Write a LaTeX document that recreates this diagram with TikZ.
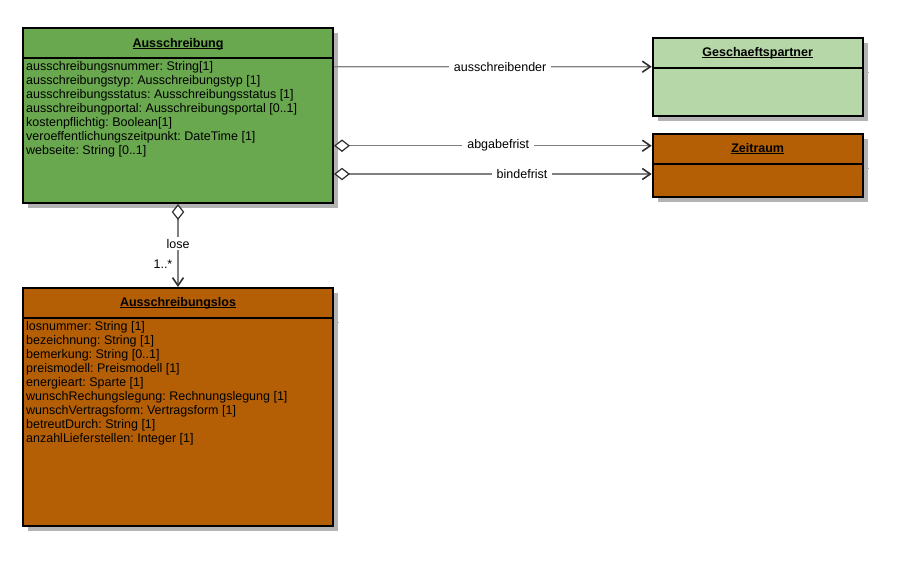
\documentclass[tikz,border=0pt]{standalone}
\usepackage{fontspec}
\setmainfont{Liberation Sans}
\usetikzlibrary{arrows.meta,shadows}
\definecolor{cgreen}{HTML}{6AA84F}
\definecolor{clight}{HTML}{B6D7A8}
\definecolor{corange}{HTML}{B45F06}
\definecolor{cshadow}{HTML}{B3B3B3}
\definecolor{cline}{HTML}{808080}
\definecolor{ctip}{HTML}{303030}
\newcommand\umlul[1]{\setbox0\hbox{#1}\rlap{\rule[-1.6pt]{\wd0}{0.9pt}}\box0}
\frenchspacing
\begin{document}
\begin{tikzpicture}[x=1pt,y=-1pt,
  umlbox/.style={draw=black, line width=2pt, rectangle, inner sep=0pt,
    drop shadow={shadow xshift=5pt, shadow yshift=-5pt, fill=cshadow, opacity=1}},
  sepline/.style={draw=black, line width=2pt},
  sepshadow/.style={draw=cshadow, line width=1pt},
  txt/.style={inner sep=0pt, font=\fontsize{12.5}{14}\selectfont, text=black},
  attr/.style={txt, anchor=base west},
  umltitle/.style={txt, anchor=base, font=\fontsize{12.5}{14}\selectfont\bfseries},
  conn/.style={draw=cline, line width=1.3pt},
  lbl/.style={txt, fill=white, inner xsep=5pt, inner ysep=2pt},
  barb/.tip={Straight Barb[length=8pt, width=11pt, line width=1.6pt, color=ctip]},
  diam/.tip={Diamond[length=16pt, width=12.5pt, fill=white, color=ctip, line width=1.2pt]}
]
\useasboundingbox[fill=white] (0,0) rectangle (921,563);

% boxes
\node[umlbox, fill=cgreen, minimum width=310pt, minimum height=175pt] (A) at (178,115.5) {};
\node[umlbox, fill=corange, minimum width=310pt, minimum height=238pt] (L) at (178,407) {};
\node[umlbox, fill=clight, minimum width=210pt, minimum height=78.3pt] (G) at (757.7,76.85) {};
\node[umlbox, fill=corange, minimum width=210pt, minimum height=63pt] (Z) at (757.7,165.2) {};

% compartment separators
\foreach \b in {A,L,G,Z}{
  \draw[sepline] ([yshift=-31pt]\b.north west) -- ([yshift=-31pt]\b.north east);
}
\foreach \b in {L,G,Z}{
  \draw[sepshadow] ([yshift=-35.3pt]\b.north east) -- ([yshift=-35.3pt,xshift=5pt]\b.north east);
}

% titles
\node[umltitle] (At) at ([yshift=-20.3pt]A.north) {\umlul{Ausschreibung}};
\node[umltitle] (Lt) at ([yshift=-19.7pt]L.north) {\umlul{Ausschreibungslos}};
\node[umltitle] (Gt) at ([yshift=-20pt]G.north) {\umlul{Geschaeftspartner}};
\node[umltitle] (Zt) at ([yshift=-20pt]Z.north) {\umlul{Zeitraum}};

% attributes
\foreach \t [count=\i from 0] in {
  ausschreibungsnummer: String[1],
  ausschreibungstyp: Ausschreibungstyp [1],
  ausschreibungsstatus: Ausschreibungsstatus [1],
  ausschreibungportal: Ausschreibungsportal [0..1],
  kostenpflichtig: Boolean[1],
  veroeffentlichungszeitpunkt: DateTime [1],
  webseite: String [0..1]}
  \node[attr] (a\i) at (26,70.8+14*\i) {\t};

\foreach \t [count=\i from 0] in {
  losnummer: String [1],
  bezeichnung: String [1],
  bemerkung: String [0..1],
  preismodell: Preismodell [1],
  energieart: Sparte [1],
  wunschRechungslegung: Rechnungslegung [1],
  wunschVertragsform: Vertragsform [1],
  betreutDurch: String [1],
  anzahlLieferstellen: Integer [1]}
  \node[attr] (l\i) at (26,330.8+14*\i) {\t};

% connectors
\draw[conn, -barb] ([yshift=-39.7pt]A.north east) --
  node[lbl, pos=0.523] (lb1) {ausschreibender} ([yshift=-30pt]G.north west);
\draw[conn, diam-barb] ([yshift=-118.7pt]A.north east) --
  node[lbl, pos=0.517] (lb2) {abgabefrist} ([yshift=-13pt]Z.north west);
\draw[conn, diam-barb] ([yshift=-147pt]A.north east) --
  node[lbl, pos=0.592] (lb3) {bindefrist} ([yshift=-41.3pt]Z.north west);
\draw[conn, diam-barb] (A.south) --
  node[lbl, pos=0.48, inner xsep=1pt] (lb4) {lose}
  node[txt, pos=0.72, anchor=east, xshift=-5pt] (lb5) {1..*} (L.north);
\end{tikzpicture}
\end{document}
